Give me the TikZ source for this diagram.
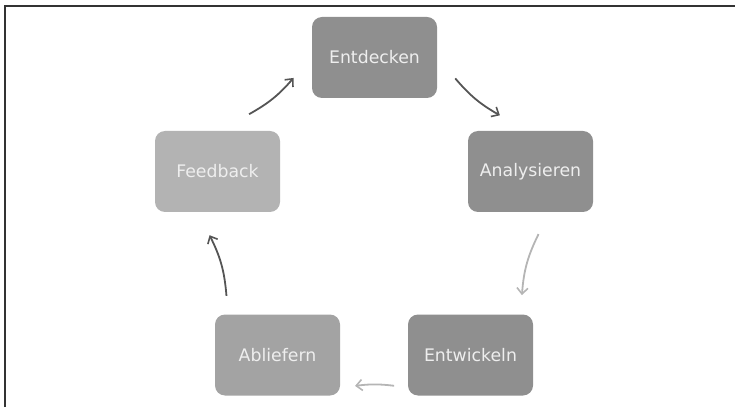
\documentclass[tikz,border=0pt]{standalone}
\usepackage{fontspec}
\setmainfont{DejaVu Sans}
\usetikzlibrary{arrows.meta}

\definecolor{boxdark}{HTML}{8F8F8F}
\definecolor{boxmid}{HTML}{A3A3A3}
\definecolor{boxlight}{HTML}{B3B3B3}
\definecolor{textlight}{HTML}{EEEEEE}
\definecolor{arrowdark}{HTML}{555555}
\definecolor{arrowlight}{HTML}{B5B5B5}

\tikzset{
    phase/.style={rectangle, rounded corners=10pt, minimum width=125pt, minimum height=81pt,
        text=textlight, font=\fontsize{17.3}{20}\selectfont, inner sep=0pt},
    flow/.style={line width=1.8pt, -{Straight Barb[length=6pt,width=11pt,line width=1.6pt]}}
}

\begin{document}
\begin{tikzpicture}[x=1pt,y=1pt]
    \useasboundingbox (0,0) rectangle (735,407);
    \draw[line width=1.3pt, black!80] (5,0) -- (5,401) -- (735,401);

    \coordinate (c) at (374,185);
    \foreach \name/\x/\y/\col/\txt in {entdecken/374.5/349.5/boxdark/Entdecken,
        analysieren/530.5/235.5/boxdark/Analysieren,
        entwickeln/470.5/52/boxdark/Entwickeln,
        abliefern/277.5/52/boxmid/Abliefern,
        feedback/217.5/235.5/boxlight/Feedback}
    {
        \node[phase, fill=\col] (\name) at (\x,\y) {\txt};
    }

    \foreach \i/\a/\b/\bend/\col in {1/60.5/40.3/10/arrowdark, 2/-4.2/-26.3/11/arrowlight,
        3/-83/-96.6/7/arrowlight, 4/206.6/184.6/11/arrowdark, 5/139.2/119.2/10/arrowdark}
    {
        \coordinate (s\i) at ([shift={(\a:165)}]c);
        \coordinate (t\i) at ([shift={(\b:165)}]c);
        \draw[flow, \col] (s\i) to[bend right=\bend] (t\i);
    }
\end{tikzpicture}
\end{document}
